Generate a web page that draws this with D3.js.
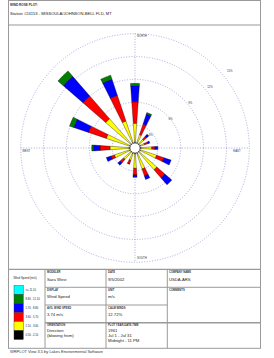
<!DOCTYPE html>
<html><head><meta charset="utf-8">
<script src="https://cdn.jsdelivr.net/npm/d3@7"></script>
<style>html,body{margin:0;padding:0;background:#fff;}svg{display:block;font-family:"Liberation Sans",Arial,sans-serif;}</style>
</head><body>
<script>
// ---- data ----
const directions = ["N","NNE","NE","ENE","E","ESE","SE","SSE","S","SSW","SW","WSW","W","WNW","NW","NNW"];
const speedClasses = ["0.50 - 2.10","2.10 - 3.60","3.60 - 5.70","5.70 - 8.80","8.80 - 11.10",">= 11.10"];
const classColors = ["#000000","#ffff00","#ff0000","#0000ff","#008000","#00ffff"];
// percent of time per direction, per speed class (black, yellow, red, blue, green, cyan)
const class050_210 = [0.8,0.8,0.8,0.8,0.8,0.8,0.8,0.8,0.8,0.8,0.8,0.8,0.8,0.8,0.8,0.8];
const class210_360 = [2.44,1.05,0.7,0.5,1.4,2.2,3.0,2.1,1.87,0.9,1.2,2.05,2.48,3.18,4.3,2.94];
const class360_570 = [2.84,1.45,0.5,0.5,0.4,1.0,1.4,0.95,0.87,0.5,0.6,0.45,1.32,2.45,3.95,3.54];
const class570_880 = [2.10,1.40,0.4,0.25,0.4,1.0,1.2,0.5,0.31,0.05,0.4,0.67,0.87,2.05,3.42,2.22];
const class880_1110 = [0.31,0.20,0,0,0,0,0,0,0,0,0,0,0.21,0.57,0.93,0.58];
const class1110up = [0,0,0,0,0,0,0,0,0,0,0,0,0,0,0,0];
const ringTicks = [3,6,9,12,15];
const ringLabels = ["3%","6%","9%","12%","15%"];
const compassLabels = ["NORTH","EAST","SOUTH","WEST"];

const W = 274, H = 358;
const svg = d3.select("body").append("svg").attr("width",W).attr("height",H);
const gray = "#9a9a9a";

// frame
svg.append("rect").attr("x",8.5).attr("y",0.5).attr("width",252).attr("height",347.8)
  .attr("fill","none").attr("stroke",gray).attr("stroke-width",1);
svg.append("line").attr("x1",8.5).attr("x2",260.5).attr("y1",25).attr("y2",25).attr("stroke",gray).attr("stroke-width",1.2);
svg.append("text").attr("x",10).attr("y",6).attr("font-size",3.1).attr("font-weight","bold").attr("fill","#333").text("WIND ROSE PLOT:");
svg.append("text").attr("x",10).attr("y",14.5).attr("font-size",4.1).attr("fill","#222").text("Station #24153 - MISSOULA/JOHNSON-BELL FLD, MT");

// ---- rose ----
const cx = 135, cy = 148;
const r = d3.scaleLinear().domain([0,15]).range([0,114.3]);
const g = svg.append("g").attr("transform",`translate(${cx},${cy})`);
const gridColor = "#8a8acc";
ringTicks.forEach(t=>{
  g.append("circle").attr("r",r(t)).attr("fill","none").attr("stroke",gridColor)
   .attr("stroke-width",0.7).attr("stroke-dasharray","1,1.6");
});
g.append("line").attr("x1",-r(15)).attr("x2",r(15)).attr("y1",0).attr("y2",0)
  .attr("stroke",gridColor).attr("stroke-width",0.7).attr("stroke-dasharray","1,1.6");
g.append("line").attr("y1",-r(15)).attr("y2",r(15)).attr("x1",0).attr("x2",0)
  .attr("stroke",gridColor).attr("stroke-width",0.7).attr("stroke-dasharray","1,1.6");

const series = [class050_210,class210_360,class360_570,class570_880,class880_1110,class1110up];
const table = directions.map((d,i)=>{ const o={dir:d}; series.forEach((s,k)=>o["c"+k]=s[i]); return o; });
const stacked = d3.stack().keys(series.map((s,k)=>"c"+k))(table);
const angle = d3.scaleBand().domain(directions).range([-Math.PI/16, 2*Math.PI-Math.PI/16]);
const half = (8/2)*Math.PI/180;
const arc = d3.arc();
stacked.forEach((layer,k)=>{
  g.append("g").selectAll("path").data(layer.filter(d=>d[1]-d[0]>0)).join("path")
   .attr("d",d=>{
     const a = angle(d.data.dir)+angle.bandwidth()/2;
     return arc({innerRadius:r(d[0]),outerRadius:r(d[1]),startAngle:a-half,endAngle:a+half});
   })
   .attr("fill",classColors[k]).attr("stroke","#000").attr("stroke-width",0.35);
});
g.append("circle").attr("r",4.6).attr("fill","#fff");

// ring labels
ringTicks.forEach((t,i)=>{
  const rr = r(t)*1.11-5, a = 51*Math.PI/180;
  g.append("text").attr("x",rr*Math.sin(a)).attr("y",-rr*Math.cos(a)+1)
   .attr("text-anchor","middle").attr("font-size",2.8).attr("fill","#333").text(ringLabels[i]);
});
// compass labels
const cl = (x,y,t)=>g.append("text").attr("x",x).attr("y",y).attr("font-size",2.8).attr("fill","#333").text(t);
cl(2,-r(15)+3.5,compassLabels[0]);
cl(r(15)-16,3.8,compassLabels[1]);
cl(2,r(15)-3,compassLabels[2]);
cl(-r(15)+1.5,3.8,compassLabels[3]);

// ---- info table ----
const colX = [8.5,45,106,167.3,260.5];
const rowY = [269.3,287.3,305,322.7,348.3];
const line=(x1,y1,x2,y2,w)=>svg.append("line").attr("x1",x1).attr("y1",y1).attr("x2",x2).attr("y2",y2).attr("stroke",gray).attr("stroke-width",w||1);
line(8.5,rowY[0],260.5,rowY[0],1.2);
[1,2,3].forEach(c=>line(colX[c],rowY[0],colX[c],rowY[4]));
line(45,rowY[1],260.5,rowY[1]);
line(45,rowY[2],167.3,rowY[2]);
line(45,rowY[3],260.5,rowY[3],1.4);

const lab=(x,y,t)=>svg.append("text").attr("x",x).attr("y",y).attr("font-size",2.7).attr("font-weight","bold").attr("fill","#333").text(t);
const val=(x,y,t)=>svg.append("text").attr("x",x).attr("y",y).attr("font-size",4.2).attr("fill","#222").text(t);
lab(47,273,"MODELER"); val(47,280.5,"Sara West");
lab(47,291,"DISPLAY"); val(47,298,"Wind Speed");
lab(47,308.5,"AVG. WIND SPEED"); val(47,315.5,"3.74 m/s");
lab(47,326.3,"ORIENTATION"); val(47,332.3,"Direction"); val(47,337.3,"(blowing from)");
lab(108,273,"DATE"); val(108,280.5,"9/5/2002");
lab(108,291,"UNIT"); val(108,298,"m/s");
lab(108,308.5,"CALM WINDS"); val(108,315.5,"12.72%");
lab(108,326.3,"PLOT YEAR-DATE-TIME"); val(108,332.3,"1961"); val(108,337.3,"Jul 1 - Jul 31"); val(108,342.3,"Midnight - 11 PM");
lab(169,273,"COMPANY NAME"); val(169,280.5,"USDA-ARS");
lab(169,291,"COMMENTS");

// legend
svg.append("text").attr("x",13.5).attr("y",278.5).attr("font-size",2.9).attr("fill","#222").text("Wind Speed (m/s)");
const legOrder = d3.range(speedClasses.length).reverse();
const ly = d3.scaleBand().domain(legOrder).range([285.5,339.5]);
svg.append("g").selectAll("rect").data(legOrder).join("rect")
  .attr("x",14).attr("y",d=>ly(d)).attr("width",9.3).attr("height",ly.bandwidth())
  .attr("fill",d=>classColors[d]).attr("stroke","#333").attr("stroke-width",0.4);
svg.append("g").selectAll("text").data(legOrder).join("text")
  .attr("x",25.5).attr("y",d=>ly(d)+ly.bandwidth()/2+1).attr("font-size",2.7).attr("fill","#222").text(d=>speedClasses[d]);

svg.append("text").attr("x",10).attr("y",352.5).attr("font-size",2.8).attr("fill","#333")
  .attr("textLength",93).attr("lengthAdjust","spacingAndGlyphs")
  .text("WRPLOT View 3.5 by Lakes Environmental Software");
</script>
</body></html>
